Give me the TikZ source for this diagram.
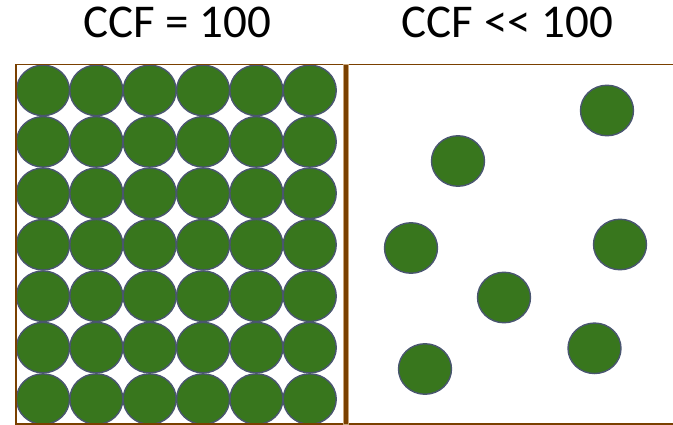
\documentclass[tikz,border=0pt]{standalone}
\usepackage{fontspec}
\setmainfont{Carlito}
\usetikzlibrary{shapes.geometric}
\definecolor{ballgreen}{HTML}{38761D}
\definecolor{ballrim}{HTML}{4A5670}
\definecolor{boxbrown}{HTML}{7A4000}
\definecolor{boxtan}{HTML}{C8A57A}
\tikzset{
  ball/.style={ellipse, fill=ballgreen, draw=ballrim, line width=1.4pt,
    minimum width=53pt, minimum height=50.5pt, inner sep=0pt},
  frameline/.style={draw=boxbrown, line width=1.8pt},
  title/.style={font=\fontsize{47}{52}\selectfont, anchor=base, inner sep=0pt}
}
\begin{document}
\begin{tikzpicture}[x=1pt,y=-1pt]
\useasboundingbox (0,0) rectangle (673,425);
% grid of balls
\foreach \i in {0,...,5}{
  \foreach \j in {0,...,6}{
    \node[ball] (g-\i-\j) at ({43+53.35*\i},{90.4+51.45*\j}) {};
  }
}
% scattered balls
\node[ball] (s1) at (607,110.5) {};
\node[ball] (s2) at (458,161) {};
\node[ball] (s3) at (411,248) {};
\node[ball] (s4) at (620,244.5) {};
\node[ball] (s5) at (504,297.5) {};
\node[ball] (s6) at (594.5,348.3) {};
\node[ball] (s7) at (425,369) {};
% frame
\draw[frameline] (673,64.5) -- (16,64.5) -- (16,424) -- (673,424);
\fill[boxbrown, draw=boxtan, line width=0.4pt] (343.5,64.5) rectangle (348,424);
% titles
\node[title] (t1) at (177,37.5) {CCF = 100};
\node[title] (t2) at (507.5,37.5) {CCF {<}{<} 100};
\end{tikzpicture}
\end{document}
